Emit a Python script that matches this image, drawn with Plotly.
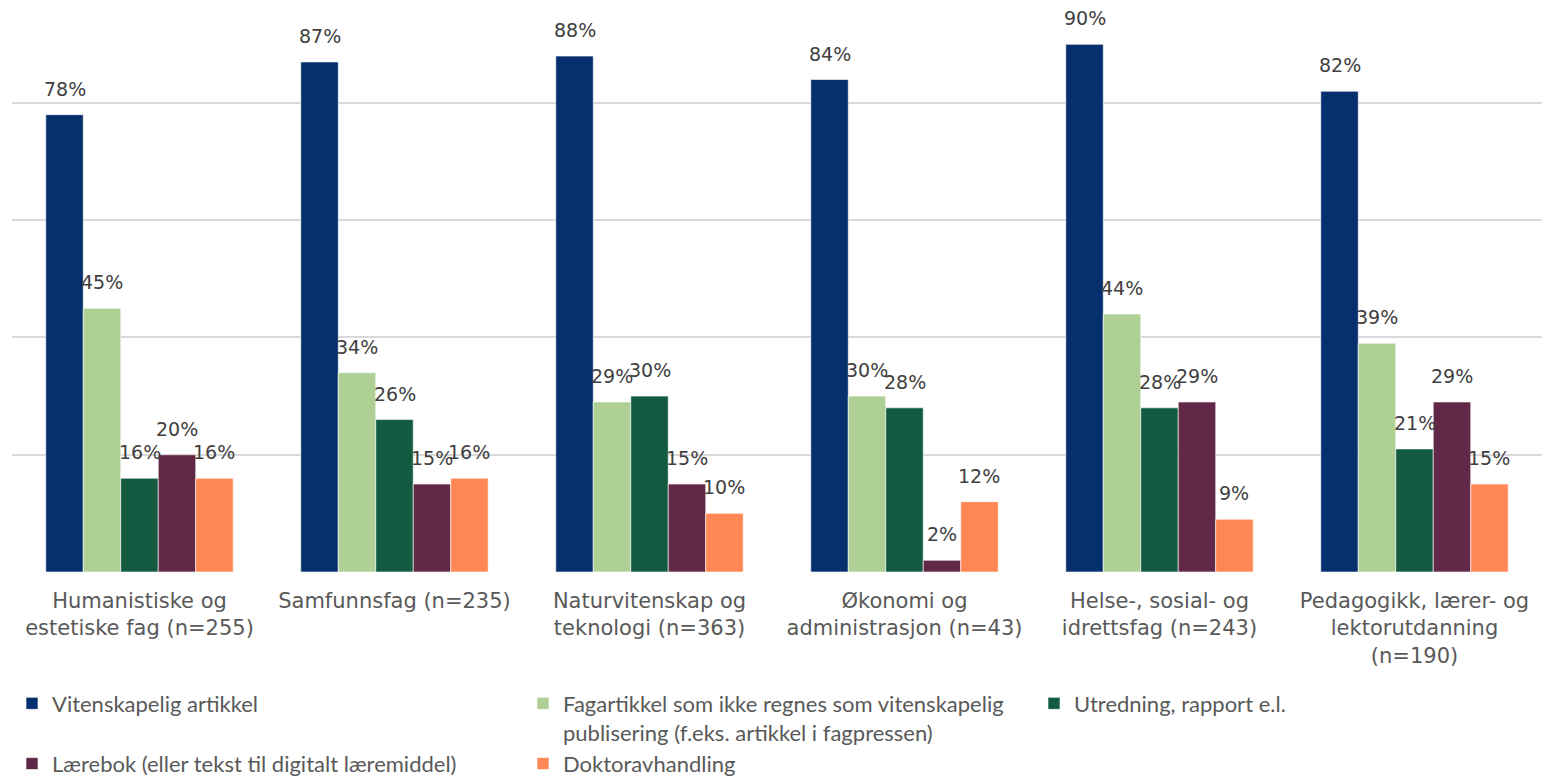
import plotly.graph_objects as go

categories = [
    "Humanistiske og<br>estetiske fag (n=255)",
    "Samfunnsfag (n=235)",
    "Naturvitenskap og<br>teknologi (n=363)",
    "Økonomi og<br>administrasjon (n=43)",
    "Helse-, sosial- og<br>idrettsfag (n=243)",
    "Pedagogikk, lærer- og<br>lektorutdanning<br>(n=190)",
]

series_names = [
    "Vitenskapelig artikkel",
    "Fagartikkel som ikke regnes som vitenskapelig<br>publisering (f.eks. artikkel i fagpressen)",
    "Utredning, rapport e.l.",
    "Lærebok (eller tekst til digitalt læremiddel)",
    "Doktoravhandling",
]

vitenskapelig = [0.78, 0.87, 0.88, 0.84, 0.90, 0.82]
fagartikkel = [0.45, 0.34, 0.29, 0.30, 0.44, 0.39]
utredning = [0.16, 0.26, 0.30, 0.28, 0.28, 0.21]
laerebok = [0.20, 0.15, 0.15, 0.02, 0.29, 0.29]
doktorav = [0.16, 0.16, 0.10, 0.12, 0.09, 0.15]

colors = ["#05306d", "#aed094", "#135b40", "#622848", "#ff8755"]

all_series = [vitenskapelig, fagartikkel, utredning, laerebok, doktorav]

BARGAP = 0.265

fig = go.Figure()
for name, vals, col in zip(series_names, all_series, colors):
    fig.add_trace(go.Bar(
        x=categories, y=vals, name=name,
        marker=dict(color=col, line=dict(color="rgba(255,255,255,0.6)", width=1)),
    ))

# data labels above bars
n = len(all_series)
w = (1 - BARGAP) / n
annotations = []
for s, vals in enumerate(all_series):
    for i, v in enumerate(vals):
        annotations.append(dict(
            x=i + (s - (n - 1) / 2) * w, y=v, xref="x", yref="y",
            text=f"{round(v*100)}%", showarrow=False,
            yanchor="bottom", yshift=13,
            font=dict(family="DejaVu Sans", size=19, color="#404040"),
        ))

fig.update_layout(
    width=1557, height=770,
    margin=dict(l=4, r=23, t=0, b=206, autoexpand=False),
    paper_bgcolor="white", plot_bgcolor="white",
    barmode="group", bargap=BARGAP, bargroupgap=0,
    annotations=annotations,
    showlegend=True,
    legend=dict(
        orientation="h", x=0.0, xanchor="left", y=-0.196, yanchor="top",
        entrywidth=466, entrywidthmode="pixels", valign="top",
        font=dict(family="Lato", size=22, color="#595959"),
        traceorder="normal", itemwidth=30,
        tracegroupgap=0,
    ),
    xaxis=dict(
        showgrid=False, showline=False, ticks="", ticklabelstandoff=14,
        tickfont=dict(family="DejaVu Sans", size=21, color="#595959"),
    ),
    yaxis=dict(
        range=[0, 0.962], dtick=0.2, showgrid=True, gridcolor="#d9d9d9", gridwidth=1.5,
        showticklabels=False, zeroline=False, showline=False, ticks="",
    ),
)

fig.write_html("out.html")
